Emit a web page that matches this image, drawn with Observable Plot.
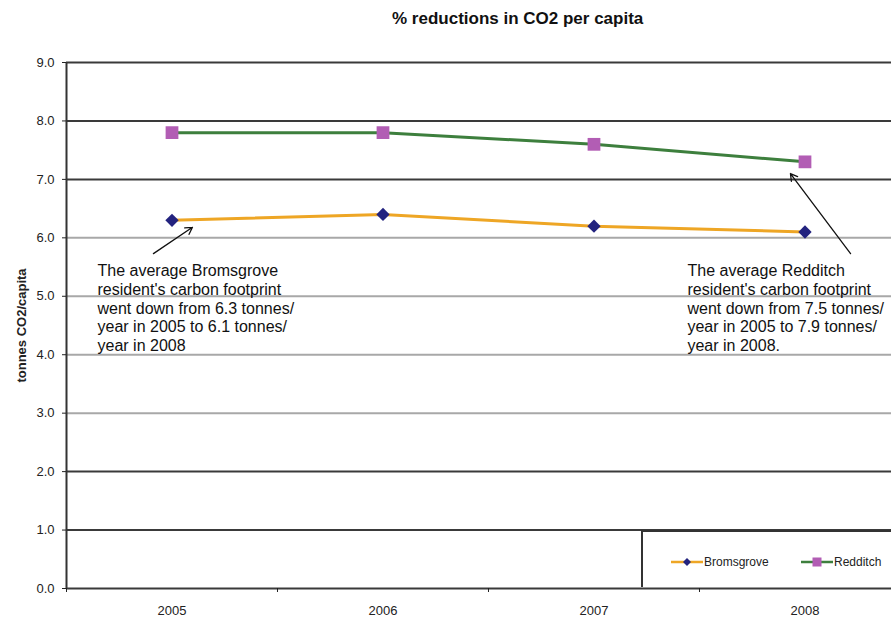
<!DOCTYPE html>
<html>
<head>
<meta charset="utf-8">
<script src="https://cdn.jsdelivr.net/npm/d3@7"></script>
<script src="https://cdn.jsdelivr.net/npm/@observablehq/plot@0.6"></script>
<style>
  html, body { margin: 0; padding: 0; background: #fff; }
  body { width: 891px; height: 617px; overflow: hidden; font-family: "Liberation Sans", Arial, sans-serif; }
  #wrap { position: relative; width: 891px; height: 617px; overflow: hidden; }
  #title { position: absolute; left: 392px; top: 9px; font-weight: bold; font-size: 17px; color: #111; white-space: nowrap; }
  #chart { position: absolute; left: 0; top: 40px; }
  #legend { position: absolute; left: 641px; top: 530px; width: 260px; height: 57px; background: #fff;
            border-left: 2px solid #333; border-top: 2px solid #333; box-sizing: border-box; }
  .item { position: absolute; top: 22px; display: flex; align-items: center; font-size: 12px; color: #222; }
  .item svg { margin-right: 1px; }
</style>
</head>
<body>
<div id="wrap">
  <div id="title">% reductions in CO2 per capita</div>
  <div id="chart"></div>
  <div id="legend"></div>
</div>
<script>
// ---- data ----
const years = [2005, 2006, 2007, 2008];
const bromsgrove = [6.3, 6.4, 6.2, 6.1];
const redditch = [7.8, 7.8, 7.6, 7.3];
const seriesNames = ["Bromsgrove", "Redditch"];
const yTicks = [0, 1, 2, 3, 4, 5, 6, 7, 8, 9];
const yLabel = "tonnes CO2/capita";

const noteTexts = [
  "The average Bromsgrove\nresident's carbon footprint\nwent down from 6.3 tonnes/\nyear in 2005 to 6.1 tonnes/\nyear in 2008",
  "The average Redditch\nresident's carbon footprint\nwent down from 7.5 tonnes/\nyear in 2005 to 7.9 tonnes/\nyear in 2008."
];
const noteX = [2004.647, 2007.443];
const noteY = [5.58, 5.58];
const arrowX1 = [2004.912, 2008.216];
const arrowY1 = [5.73, 5.73];
const arrowX2 = [2005.097, 2007.931];
const arrowY2 = [6.18, 7.10];

// ---- tables ----
const rows = [
  ...years.map((y, i) => ({year: y, value: bromsgrove[i], series: seriesNames[0]})),
  ...years.map((y, i) => ({year: y, value: redditch[i], series: seriesNames[1]}))
];
const notes = noteTexts.map((t, i) => ({text: t, x: noteX[i], y: noteY[i]}));
const arrows = arrowX1.map((x, i) => ({x1: x, y1: arrowY1[i], x2: arrowX2[i], y2: arrowY2[i]}));
const bounds = years.slice(0, 3).map(y => y + 0.5).concat([years[0] - 0.5]);

const colors = {Bromsgrove: {line: "#eea625", mark: "#23237f"}, Redditch: {line: "#3d7f3d", mark: "#b25db4"}};
const light = new Set([3, 4, 5, 6]);

const plot = Plot.plot({
  width: 891,
  height: 577,
  marginTop: 22,
  marginBottom: 29,
  marginLeft: 66,
  marginRight: 0,
  style: {fontFamily: "'Liberation Sans', Arial, sans-serif", color: "#222", background: "#fff"},
  x: {domain: [2004.5, 2008.41]},
  y: {domain: [0, 9]},
  marks: [
    Plot.ruleY(yTicks, {stroke: d => light.has(d) ? "#a8a8a8" : "#3a3a3a", strokeWidth: 2}),
    Plot.ruleX([2004.5], {stroke: "#333", strokeWidth: 2}),
    Plot.axisY({ticks: yTicks, tickFormat: d => d.toFixed(1), tickSize: 4, tickPadding: 8, fontSize: 13,
                label: yLabel, labelAnchor: "center", labelArrow: "none", labelOffset: 50}),
    Plot.axisX({ticks: bounds, tickFormat: () => "", tickSize: 4, label: null}),
    Plot.axisX({ticks: years, tickFormat: d => String(d), tickSize: 0, tickPadding: 17, fontSize: 13, label: null}),
    Plot.line(rows.filter(d => d.series === "Bromsgrove"), {x: "year", y: "value", stroke: colors.Bromsgrove.line, strokeWidth: 3}),
    Plot.line(rows.filter(d => d.series === "Redditch"), {x: "year", y: "value", stroke: colors.Redditch.line, strokeWidth: 3}),
    Plot.dot(rows.filter(d => d.series === "Bromsgrove"), {x: "year", y: "value", symbol: "diamond2", r: 6, fill: colors.Bromsgrove.mark, stroke: "none"}),
    Plot.dot(rows.filter(d => d.series === "Redditch"), {x: "year", y: "value", symbol: "square", r: 7.2, fill: colors.Redditch.mark, stroke: "none"}),
    Plot.arrow(arrows, {x1: "x1", y1: "y1", x2: "x2", y2: "y2", stroke: "#111", strokeWidth: 1.3, headLength: 9, bend: 0}),
    Plot.text(notes, {x: "x", y: "y", text: "text", textAnchor: "start", lineAnchor: "top", lineHeight: 1.18, fontSize: 16, fill: "#111"})
  ]
});
document.getElementById("chart").appendChild(plot);

// style y-axis label bold
plot.querySelectorAll("text").forEach(t => {
  if (t.textContent === yLabel) { t.setAttribute("font-weight", "bold"); t.setAttribute("font-size", "13"); }
});

// ---- legend ----
const legend = document.getElementById("legend");
const legendLeft = [28, 158];
seriesNames.forEach((name, i) => {
  const item = document.createElement("div");
  item.className = "item";
  item.style.left = legendLeft[i] + "px";
  const sym = name === "Bromsgrove"
    ? `<path d="M16,4 L20,8 L16,12 L12,8 Z" fill="${colors[name].mark}"/>`
    : `<rect x="11.5" y="3.5" width="9" height="9" fill="${colors[name].mark}"/>`;
  item.innerHTML = `<svg width="32" height="16"><line x1="0" y1="8" x2="32" y2="8" stroke="${colors[name].line}" stroke-width="2.5"/>${sym}</svg><span>${name}</span>`;
  legend.appendChild(item);
});
</script>
</body>
</html>
